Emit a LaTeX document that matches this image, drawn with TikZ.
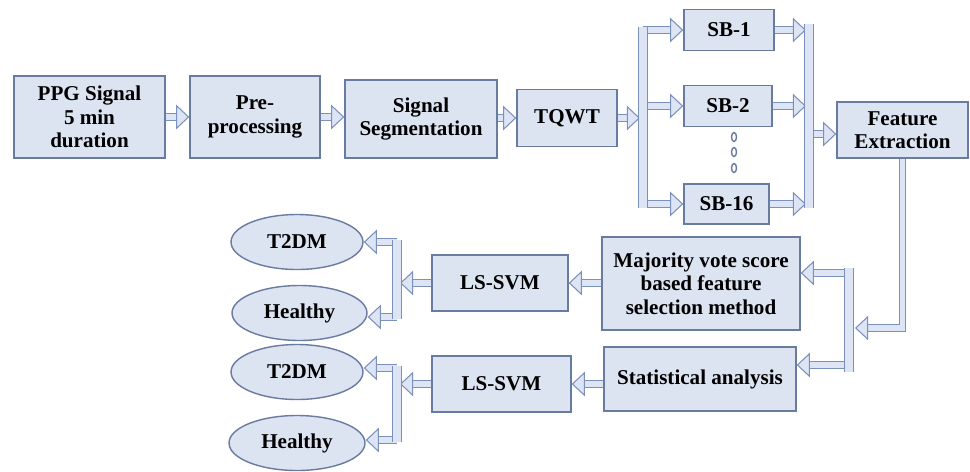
\documentclass[tikz,border=0pt]{standalone}
\usepackage{fontspec}
\setmainfont{Liberation Serif}
\usepackage{xcolor}
\usepackage{tikz}
\usetikzlibrary{arrows.meta,calc,positioning,shapes.geometric}
\definecolor{boxfill}{HTML}{DCE3F1}
\definecolor{boxedge}{HTML}{6A7BA0}
\definecolor{pipefill}{HTML}{DDE5F4}
\definecolor{pipeedge}{HTML}{7C90BC}
\tikzset{
  block/.style={rectangle,draw=boxedge,fill=boxfill,thick,inner sep=0pt,align=center,
    font=\fontsize{12}{13.3}\selectfont\bfseries},
  outcome/.style={ellipse,draw=boxedge,fill=boxfill,thick,inner sep=0pt,
    minimum width=2.64cm,minimum height=1.1cm,font=\fontsize{12}{13.3}\selectfont\bfseries},
  pipe/.style={draw=pipeedge,line width=0.6pt,double=pipefill,double distance=3.2pt,
    -{Triangle[length=7.5pt,width=14pt,fill=pipefill]}},
  bus/.style={draw=pipeedge,line width=0.6pt,double=pipefill,double distance=4pt}
}
\begin{document}
\begin{tikzpicture}[x=0.02cm,y=-0.02cm]
\useasboundingbox (0,0) rectangle (970,471);
% top row
\node[block,minimum width=3.02cm,minimum height=1.64cm] (ppg) at (89.5,117) {PPG Signal\\5 min\\duration};
\node[block,minimum width=2.6cm,minimum height=1.64cm] (pre) at (255,117) {Pre-\\processing};
\node[block,minimum width=3.04cm,minimum height=1.56cm] (seg) at (421,119) {Signal\\Segmentation};
\node[block,minimum width=2.0cm,minimum height=1.14cm] (tqwt) at (567,118) {TQWT};
% sub-bands
\node[block,minimum width=1.8cm,minimum height=0.82cm] (sb1) at (729,30) {SB-1};
\node[block,minimum width=1.76cm,minimum height=0.82cm] (sb2) at (728,106) {SB-2};
\node[block,minimum width=1.7cm,minimum height=0.8cm] (sb16) at (726.5,204) {SB-16};
\foreach \y in {137,152,168}
  \draw[boxedge,thick] (734,\y) ellipse (2.5 and 4.5);
\node[block,minimum width=2.62cm,minimum height=1.12cm] (fe) at (902.5,130) {Feature\\Extraction};
% lower part
\node[block,minimum width=3.96cm,minimum height=1.86cm] (maj) at (701,283.5) {Majority vote score\\based feature\\selection method};
\node[block,minimum width=3.84cm,minimum height=1.28cm] (stat) at (700,379) {Statistical analysis};
\node[block,minimum width=2.72cm,minimum height=1.12cm] (svm1) at (500,283) {LS-SVM};
\node[block,minimum width=2.78cm,minimum height=1.12cm] (svm2) at (501.5,384) {LS-SVM};
\node[outcome] (t2dm1) at (297,242) {T2DM};
\node[outcome,minimum width=2.7cm] (healthy1) at (299.5,313) {Healthy};
\node[outcome] (t2dm2) at (297,372) {T2DM};
\node[outcome,minimum width=2.72cm] (healthy2) at (297,443) {Healthy};
% bus points
\coordinate (lbtop) at (643,27);
\coordinate (lbbot) at (643,208);
\coordinate (rbtop) at (809,24);
\coordinate (rbbot) at (809,208);
\coordinate (fbtop) at (849,268);
\coordinate (fbbot) at (849,372);
\coordinate (obtop) at (397,240);
\coordinate (obbot) at (397,319);
\coordinate (pbtop) at (397,366);
\coordinate (pbbot) at (397,442);
% connectors
\draw[pipe] (ppg) -- (pre);
\draw[pipe] (pre) -- (seg.west |- pre);
\draw[pipe] (seg.east |- tqwt) -- (tqwt);
\draw[pipe] (tqwt) -- ($(lbtop |- tqwt)+(-3,0)$);
\draw[pipe] (lbtop |- sb1) -- (sb1);
\draw[pipe] (lbtop |- sb2) -- (sb2);
\draw[pipe] (lbtop |- sb16) -- (sb16);
\draw[bus] (lbtop) -- (lbbot);
\draw[pipe] (sb1) -- ($(rbtop |- sb1)+(-3,0)$);
\draw[pipe] (sb2) -- ($(rbtop |- sb2)+(-3,0)$);
\draw[pipe] (sb16) -- ($(rbtop |- sb16)+(-3,0)$);
\draw[pipe] (rbtop |- 0,134) -- (fe.west |- 0,134);
\draw[bus] (rbtop) -- (rbbot);
\draw[pipe] (fe.south) |- ($(fbtop)+(6,60)$);
\draw[pipe] ($(fbtop)+(0,5)$) -- (maj.east |- 0,273);
\draw[pipe] ($(fbbot)+(0,-7)$) -- (stat.east |- 0,365);
\draw[bus] (fbtop) -- (fbbot);
\draw[pipe] (maj.west |- svm1) -- (svm1);
\draw[pipe] (stat.west |- svm2) -- (svm2);
\draw[pipe] (svm1) -- ($(obtop |- svm1)+(3,0)$);
\draw[pipe] ($(obtop)+(0,2)$) -- (t2dm1.east |- 0,242);
\draw[pipe] ($(obbot)+(0,-2)$) -- (healthy1.east |- 0,317);
\draw[bus] (obtop) -- (obbot);
\draw[pipe] (svm2) -- ($(pbtop |- svm2)+(3,0)$);
\draw[pipe] ($(pbtop)+(0,2)$) -- (t2dm2.east |- 0,368);
\draw[pipe] ($(pbbot)+(0,-2)$) -- (healthy2.east |- 0,440);
\draw[bus] (pbtop) -- (pbbot);
\end{tikzpicture}
\end{document}
